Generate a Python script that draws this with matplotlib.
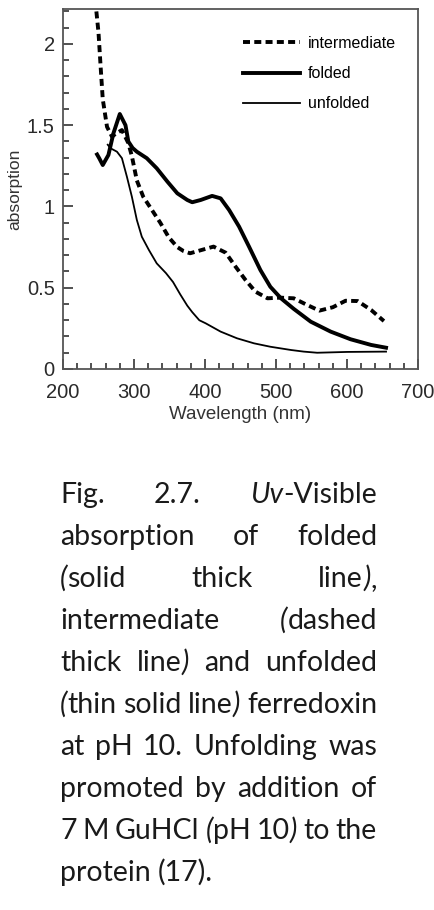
## UV-visible absorption of ferredoxin (folded / intermediate / unfolded)
import numpy as np
import matplotlib.pyplot as plt
from matplotlib.transforms import IdentityTransform

# Spectra (wavelength in nm, absorption)
wl_intermediate = [247, 250, 253, 256, 262, 269, 275, 283, 292, 297, 304, 313, 325, 337, 349,
                   361, 370, 379, 395, 412, 429, 443, 457, 471, 488, 506, 525, 542, 561,
                   580, 598, 615, 634, 652]
abs_intermediate = [2.20, 2.07, 1.86, 1.66, 1.49, 1.43, 1.45, 1.47, 1.39, 1.31, 1.16, 1.06, 0.98,
                    0.90, 0.81, 0.75, 0.725, 0.712, 0.732, 0.753, 0.716, 0.63, 0.548, 0.476,
                    0.435, 0.439, 0.435, 0.398, 0.359, 0.38, 0.42, 0.418, 0.363, 0.295]

wl_folded = [248, 251, 256, 264, 271, 280, 288, 292, 298, 304, 318, 332, 347, 361, 375, 382,
             394, 410, 422, 434, 448, 462, 478, 492, 507, 525, 549, 577, 605, 634, 655]
abs_folded = [1.32, 1.297, 1.255, 1.317, 1.45, 1.569, 1.50, 1.40, 1.36, 1.337, 1.297, 1.235,
              1.153, 1.081, 1.04, 1.026, 1.04, 1.065, 1.05, 0.978, 0.876, 0.753, 0.609, 0.506,
              0.435, 0.37, 0.291, 0.23, 0.183, 0.148, 0.131]

wl_unfolded = [263, 267, 276, 283, 290, 297, 304, 311, 321, 332, 345, 355, 365, 375, 382, 392,
               401, 422, 445, 469, 492, 521, 539, 558, 600, 655]
abs_unfolded = [1.38, 1.358, 1.337, 1.297, 1.183, 1.06, 0.917, 0.814, 0.732, 0.65, 0.59, 0.535,
                0.46, 0.39, 0.35, 0.30, 0.281, 0.23, 0.189, 0.158, 0.137, 0.117, 0.107, 0.10,
                0.105, 0.107]

y_ticks = [0, 0.5, 1, 1.5, 2]
y_tick_labels = ["0", "0.5", "1", "1.5", "2"]
x_ticks = [200, 300, 400, 500, 600, 700]

# Caption, *...* marks italic parts; last line is not justified
caption_lines = [
    "Fig. 2.7. *Uv*-Visible",
    "absorption of folded",
    "*(*solid thick line*)*,",
    "intermediate *(*dashed",
    "thick line*)* and unfolded",
    "*(*thin solid line*)* ferredoxin",
    "at pH 10. Unfolding was",
    "promoted by addition of",
    "7 M GuHCl *(*pH 10*)* to the",
    "protein (17).",
]

W, H = 434, 910
fig = plt.figure(figsize=(W / 100, H / 100), dpi=100)
ax = fig.add_axes([63 / W, 1 - 369 / H, 355 / W, 360 / H])

l_int, = ax.plot(wl_intermediate, abs_intermediate, color="black", lw=2.8,
                 dashes=(1.8, 1.1), label="intermediate")
l_fold, = ax.plot(wl_folded, abs_folded, color="black", lw=2.8, label="folded")
l_unf, = ax.plot(wl_unfolded, abs_unfolded, color="black", lw=1.3, label="unfolded")

ax.set_xlim(200, 700)
ax.set_ylim(0, 2.215)
ax.set_xticks(x_ticks)
ax.set_xticks(np.arange(200, 701, 20), minor=True)
ax.set_yticks(y_ticks)
ax.set_yticklabels(y_tick_labels)
ax.set_yticks(np.arange(0, 2.21, 0.1), minor=True)

font = "Liberation Sans"
for s in ax.spines.values():
    s.set_color("#555555")
    s.set_linewidth(1.3)
ax.tick_params(which="both", direction="in", top=False, right=False, color="#333333", width=1.2)
ax.tick_params(which="major", length=7, labelsize=14.5, labelcolor="#2a2a2a")
ax.tick_params(which="minor", length=4)
ax.tick_params(axis="x", pad=10)
ax.tick_params(axis="y", pad=6)
for lab in ax.get_xticklabels() + ax.get_yticklabels():
    lab.set_family(font)

ax.set_xlabel("Wavelength (nm)", fontsize=13.5, family=font, color="#333333", labelpad=3)
ax.set_ylabel("absorption", fontsize=12.5, family=font, color="#333333", labelpad=3)

ax.legend(handles=[l_int, l_fold, l_unf], loc="upper left", bbox_to_anchor=(0.507, 0.925),
          frameon=False, borderpad=0, borderaxespad=0, handlelength=3.6, handletextpad=0.45,
          labelspacing=0.95, prop={"family": font, "size": 11.5})

# Justified caption text, placed word by word
renderer = fig.canvas.get_renderer()
cap_font = "Lato"
cap_size = 20.5
left, right = 60, 377
base0, step = 503, 42.0


def parse_words(line):
    words, segs, cur, italic = [], [], "", False
    for ch in line:
        if ch == "*":
            if cur:
                segs.append((cur, italic))
            cur = ""
            italic = not italic
        elif ch == " ":
            if cur:
                segs.append((cur, italic))
            cur = ""
            if segs:
                words.append(segs)
            segs = []
        else:
            cur += ch
    if cur:
        segs.append((cur, italic))
    if segs:
        words.append(segs)
    return words


def text_width(txt):
    t = fig.text(0, 0, txt, family=cap_font, fontsize=cap_size)
    w = t.get_window_extent(renderer).width
    t.remove()
    return w


def make_word(segs, y):
    arts, width = [], 0
    for txt, it in segs:
        t = fig.text(0, y, txt, transform=IdentityTransform(), family=cap_font,
                     style="italic" if it else "normal", fontsize=cap_size,
                     color="#1a1a1a", va="baseline", ha="left")
        w = t.get_window_extent(renderer).width
        arts.append((t, width))
        width += w
    return arts, width


space_w = text_width("a a") - text_width("aa")

for i, line in enumerate(caption_lines):
    y = H - (base0 + step * i)
    words = [make_word(segs, y) for segs in parse_words(line)]
    total = sum(w for _, w in words)
    last = i == len(caption_lines) - 1
    if last or len(words) == 1:
        gap = space_w
    else:
        gap = (right - left - total) / (len(words) - 1)
    x = left
    for arts, w in words:
        for t, off in arts:
            t.set_x(x + off)
        x += w + gap

fig.savefig("out.png", dpi=100)
